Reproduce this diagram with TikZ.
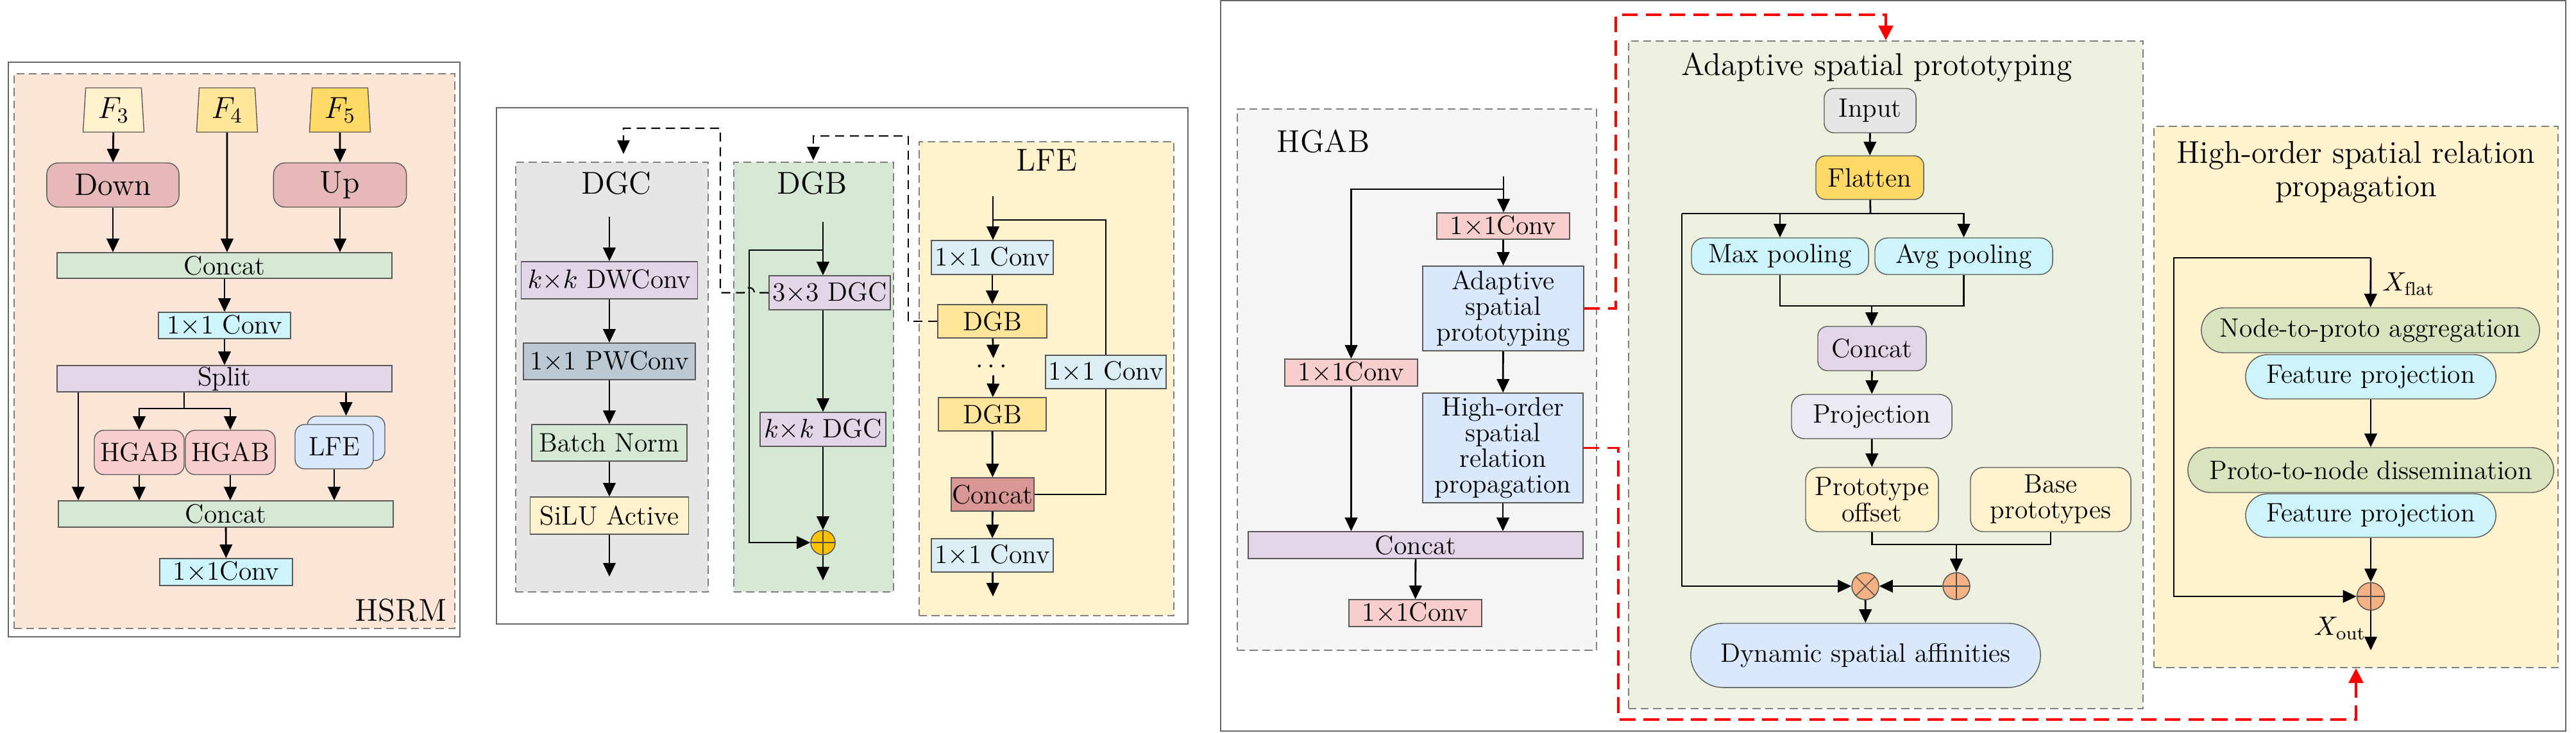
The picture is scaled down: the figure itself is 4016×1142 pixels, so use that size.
\RequirePackage{fix-cm}
\documentclass[tikz,border=0pt]{standalone}
\usepackage{amsmath}
\usepackage{fontspec}
\usepackage{tikz}
\usepackage{xcolor}
\usetikzlibrary{arrows.meta,positioning,calc,shapes.geometric}

\definecolor{hsrmbg}{HTML}{FBE5D6}
\definecolor{fthree}{HTML}{FFF2CC}
\definecolor{ffour}{HTML}{FFE699}
\definecolor{ffive}{HTML}{FFD966}
\definecolor{rosy}{HTML}{E6B8B7}
\definecolor{mint}{HTML}{D5E8D4}
\definecolor{aqua}{HTML}{CCF4FA}
\definecolor{lilac}{HTML}{E1D5E7}
\definecolor{pinkish}{HTML}{F8CECC}
\definecolor{sky}{HTML}{DAE8FC}
\definecolor{grayish}{HTML}{E6E6E6}
\definecolor{steel}{HTML}{BAC8D3}
\definecolor{cream}{HTML}{FFF2CC}
\definecolor{amber}{HTML}{FFC000}
\definecolor{ice}{HTML}{DAEEF3}
\definecolor{butter}{HTML}{FFE599}
\definecolor{rosedark}{HTML}{D99694}
\definecolor{fog}{HTML}{F5F5F5}
\definecolor{sage}{HTML}{EBF1DE}
\definecolor{gold}{HTML}{FFD966}
\definecolor{lavender}{HTML}{ECE9F3}
\definecolor{salmon}{HTML}{F4B183}
\definecolor{olive}{HTML}{D7E4BD}

\begin{document}
\begin{tikzpicture}[
    x=0.01cm, y=-0.01cm,
    font=\fontsize{11.8}{11.4}\selectfont,
    sz/.style 2 args={minimum width=#1, minimum height=#2},
    blk/.style={draw=black!65, line width=0.4pt, inner sep=0pt, align=center},
    rblk/.style={blk, rounded corners=#1},
    fmap/.style={trapezium, trapezium angle=84, trapezium stretches body, draw=black!65,
      line width=0.4pt, inner sep=0pt, minimum width=0.95cm, minimum height=0.69cm,
      font=\fontsize{13.5}{14}\selectfont},
    panel/.style={draw=black!50, dash pattern=on 3.5pt off 2pt, line width=0.5pt, inner sep=0pt},
    outer/.style={draw=black!60, line width=0.6pt},
    ttl/.style={font=\fontsize{14}{14.8}\selectfont, inner sep=0pt, align=center},
    arr/.style={-{Triangle[length=6pt, width=5.5pt]}, line width=0.8pt},
    ln/.style={line width=0.8pt},
    darr/.style={arr, dash pattern=on 4pt off 2.5pt, line width=0.6pt},
    rarr/.style={-{Triangle[length=6.5pt, width=6.5pt]}, draw=red, line width=0.9pt,
      dash pattern=on 7pt off 3.5pt},
    opplus/.style={circle, draw=black!70, line width=0.4pt, inner sep=0pt,
      path picture={\draw[black!70] (path picture bounding box.north) -- (path picture bounding box.south)
        (path picture bounding box.west) -- (path picture bounding box.east);}},
    optimes/.style={circle, draw=black!70, line width=0.4pt, inner sep=0pt,
      path picture={\draw[black!70] (path picture bounding box.north west) -- (path picture bounding box.south east)
        (path picture bounding box.north east) -- (path picture bounding box.south west);}},
  ]
  \useasboundingbox (0,0) rectangle (4016,1142);

  % HSRM
  \draw[outer] (13,97) rectangle (717,993);
  \node[panel, fill=hsrmbg, sz={6.87cm}{8.65cm}] (hsrmbox) at (365.5,547.5) {};
  \node[fmap, fill=fthree] (f3) at (177,171.5) {$F_3$};
  \node[fmap, fill=ffour] (f4) at (354,171.5) {$F_4$};
  \node[fmap, fill=ffive] (f5) at (530,171.5) {$F_5$};
  \node[rblk=0.18cm, fill=rosy, sz={2.06cm}{0.69cm}, font=\fontsize{13.8}{14}\selectfont] (down) at (176,288.5) {Down};
  \node[rblk=0.18cm, fill=rosy, sz={2.07cm}{0.69cm}, font=\fontsize{13.8}{14}\selectfont] (up) at (530,288.5) {Up};
  \node[blk, fill=mint, sz={5.22cm}{0.40cm}] (cat1) at (350,414) {Concat};
  \node[blk, fill=aqua, sz={2.06cm}{0.41cm}] (conv1) at (350,507.5) {1$\times$1 Conv};
  \node[blk, fill=lilac, sz={5.22cm}{0.41cm}] (split) at (350,590.5) {Split};
  \coordinate (sbr) at (287,637);
  \node[rblk=0.15cm, fill=pinkish, sz={1.40cm}{0.69cm}] (hgab1) at (217,705.5) {HGAB};
  \node[rblk=0.15cm, fill=pinkish, sz={1.40cm}{0.69cm}] (hgab2) at (359,705.5) {HGAB};
  \node[rblk=0.15cm, fill=sky, sz={1.21cm}{0.69cm}] (lfeback) at (539.5,683.5) {};
  \node[rblk=0.15cm, fill=sky, sz={1.22cm}{0.69cm}] (lfe) at (521,696.5) {LFE};
  \node[blk, fill=mint, sz={5.22cm}{0.41cm}] (cat2) at (352,801.5) {Concat};
  \node[blk, fill=aqua, sz={2.07cm}{0.42cm}] (conv2) at (352.5,892) {1$\times$1Conv};
  \node[ttl, anchor=base east] (hsrmlbl) at (697,968) {HSRM};

  \draw[arr] (f3) -- (down);
  \draw[arr] (f5) -- (up);
  \draw[arr] (f4) -- (cat1.north -| f4);
  \draw[arr] (down) -- (cat1.north -| down);
  \draw[arr] (up) -- (cat1.north -| up);
  \draw[arr] (cat1) -- (conv1);
  \draw[arr] (conv1) -- (split);
  \draw[arr] (split.south -| 122,0) -- (cat2.north -| 122,0);
  \draw[ln] (split.south -| sbr) -- (sbr);
  \draw[arr] (sbr) -| (hgab1);
  \draw[arr] (sbr) -| (hgab2);
  \draw[arr] (split.south -| lfeback) -- (lfeback);
  \draw[arr] (hgab1) -- (cat2.north -| hgab1);
  \draw[arr] (hgab2) -- (cat2.north -| hgab2);
  \draw[arr] (lfe) -- (cat2.north -| lfe);
  \draw[arr] (cat2) -- (conv2);

  % DGC / DGB / LFE
  \draw[outer] (774,168) rectangle (1852,973);
  \node[panel, fill=grayish, sz={3.00cm}{6.70cm}] (dgcbox) at (954,588) {};
  \node[ttl] (dgcttl) at (961,286) {DGC};
  \coordinate (dgcin) at (950,338);
  \coordinate (dgctop) at (972,240);
  \node[blk, fill=lilac, sz={2.75cm}{0.58cm}] (dw) at (950,437) {$k{\times}k$ DWConv};
  \node[blk, fill=steel, sz={2.68cm}{0.57cm}] (pw) at (950,563.5) {1$\times$1 PWConv};
  \node[blk, fill=mint, sz={2.42cm}{0.57cm}] (bn) at (950,690.5) {Batch Norm};
  \node[blk, fill=cream, sz={2.47cm}{0.58cm}] (silu) at (950,804) {SiLU Active};
  \coordinate (dgcout) at (950,899);
  \draw[arr] (dgcin) -- (dw);
  \draw[arr] (dw) -- (pw);
  \draw[arr] (pw) -- (bn);
  \draw[arr] (bn) -- (silu);
  \draw[arr] (silu) -- (dgcout);

  \node[panel, fill=mint, sz={2.49cm}{6.70cm}] (dgbbox) at (1268.5,588) {};
  \node[ttl] (dgbttl) at (1266,286) {DGB};
  \coordinate (dgbin) at (1283,346);
  \coordinate (dgbbr) at (1283,390);
  \coordinate (dgbloop) at (1168,390);
  \coordinate (dgbtop) at (1268,250);
  \node[blk, fill=lilac, sz={1.89cm}{0.53cm}] (dgc3) at (1293.5,456.5) {3$\times$3 DGC};
  \node[blk, fill=lilac, sz={1.96cm}{0.53cm}] (dgck) at (1283,669.5) {$k{\times}k$ DGC};
  \node[opplus, fill=amber, minimum size=0.38cm] (sum1) at (1283,846) {};
  \coordinate (dgbout) at (1283,905);
  \draw[arr] (dgbin) -- (dgbin |- dgc3.north);
  \draw[arr] (dgbbr) -- (dgbloop) |- (sum1);
  \draw[arr] (dgc3.south -| dgbin) -- (dgck);
  \draw[arr] (dgck) -- (sum1);
  \draw[arr] (sum1) -- (dgbout);

  \node[panel, fill=cream, sz={3.97cm}{7.39cm}] (lfebox) at (1631.5,590.5) {};
  \node[ttl] (lfettl) at (1632,250) {LFE};
  \coordinate (lfein) at (1548,306);
  \coordinate (lfebr) at (1548,343);
  \node[blk, fill=ice, sz={1.90cm}{0.53cm}] (lfeconv1) at (1547,401.5) {1$\times$1 Conv};
  \node[blk, fill=butter, sz={1.70cm}{0.52cm}] (lfedgb1) at (1547,501) {DGB};
  \node[inner sep=1pt] (lfedots) at (1549,572) {$\cdots$};
  \node[blk, fill=butter, sz={1.68cm}{0.52cm}] (lfedgb2) at (1547,646) {DGB};
  \node[blk, fill=rosedark, sz={1.29cm}{0.52cm}] (lfecat) at (1547.5,771) {Concat};
  \node[blk, fill=ice, sz={1.90cm}{0.52cm}] (lfeconv2) at (1547,866) {1$\times$1 Conv};
  \node[blk, fill=ice, sz={1.88cm}{0.52cm}] (lfeconvr) at (1724,580) {1$\times$1 Conv};
  \coordinate (lfeout) at (1548,930);
  \draw[arr] (lfein) -- (lfeconv1.north -| lfein);
  \draw[ln] (lfebr) -| (lfeconvr);
  \draw[ln] (lfeconvr) |- (lfecat);
  \draw[arr] (lfeconv1) -- (lfedgb1);
  \draw[arr] (lfedgb1) -- (lfedots);
  \draw[arr] (lfedots) -- (lfedgb2);
  \draw[arr] (lfedgb2) -- (lfecat);
  \draw[arr] (lfecat) -- (lfeconv2);
  \draw[arr] (lfeconv2) -- (lfeout);

  % dashed links to the sub-blocks
  \coordinate (hop) at (1168,456.5);
  \coordinate (dk1) at (1123,200);
  \coordinate (dk2) at (1416,212);
  \draw[darr] (dgc3.west) -- ([xshift=0.08cm]hop) arc[start angle=0, end angle=180, radius=0.08cm]
    -- (dk1 |- dgc3.west) -- (dk1) -| (dgctop);
  \draw[darr] (lfedgb1.west) -- (dk2 |- lfedgb1.west) -- (dk2) -| (dgbtop);

  % HGAB
  \draw[outer] (1903,1) rectangle (4000,1140);
  \node[panel, fill=fog, sz={5.60cm}{8.44cm}] (hgabbox) at (2209,592) {};
  \node[ttl] (hgabttl) at (2063,220) {HGAB};
  \coordinate (hgin) at (2344,275);
  \coordinate (hgbr) at (2344,295);
  \node[blk, fill=pinkish, sz={2.07cm}{0.41cm}] (hgconv1) at (2343.5,352.5) {1$\times$1Conv};
  \node[blk, fill=sky, sz={2.51cm}{1.32cm}] (asp) at (2343.5,481) {Adaptive\\spatial\\prototyping};
  \node[blk, fill=sky, sz={2.50cm}{1.71cm}] (hosrp) at (2343,698.5) {High-order\\spatial\\relation\\propagation};
  \node[blk, fill=pinkish, sz={2.07cm}{0.42cm}] (hgconvl) at (2106.5,581) {1$\times$1Conv};
  \node[blk, fill=lilac, sz={5.22cm}{0.42cm}] (hgcat) at (2207,850) {Concat};
  \node[blk, fill=pinkish, sz={2.07cm}{0.42cm}] (hgconv2) at (2206.5,956) {1$\times$1Conv};
  \draw[arr] (hgin) -- (hgconv1.north -| hgin);
  \draw[arr] (hgbr) -| (hgconvl);
  \draw[arr] (hgconv1) -- (asp);
  \draw[arr] (asp) -- (hosrp);
  \draw[arr] (hosrp) -- (hgcat.north -| hosrp);
  \draw[arr] (hgconvl) -- (hgcat.north -| hgconvl);
  \draw[arr] (hgcat) -- (hgconv2);

  % Adaptive spatial prototyping
  \node[panel, fill=sage, sz={8.02cm}{10.41cm}] (aspbox) at (2940,584.5) {};
  \node[ttl, anchor=base] (aspttl) at (2926,117) {Adaptive spatial prototyping};
  \node[rblk=0.15cm, fill=grayish, sz={1.43cm}{0.69cm}] (inp) at (2915.5,172.5) {Input};
  \node[rblk=0.15cm, fill=gold, sz={1.68cm}{0.68cm}] (flat) at (2915,277) {Flatten};
  \coordinate (flbr) at (2916,333);
  \coordinate (flleft) at (2622,333);
  \node[rblk=0.2cm, fill=aqua, sz={2.76cm}{0.57cm}] (maxp) at (2775,399.5) {Max pooling};
  \node[rblk=0.2cm, fill=aqua, sz={2.77cm}{0.57cm}] (avgp) at (3061.5,399.5) {Avg pooling};
  \coordinate (pooljoin) at (2918,477);
  \node[rblk=0.15cm, fill=lilac, sz={1.69cm}{0.69cm}] (aspcat) at (2918.5,543.5) {Concat};
  \node[rblk=0.2cm, fill=lavender, sz={2.50cm}{0.69cm}] (proj) at (2918,649.5) {Projection};
  \node[rblk=0.2cm, fill=cream, sz={2.07cm}{1.00cm}] (offs) at (2918.5,779) {Prototype\\offset};
  \node[rblk=0.2cm, fill=cream, sz={2.50cm}{1.00cm}] (baseproto) at (3197,779) {Base\\prototypes};
  \coordinate (protojoin) at (3050,849);
  \node[opplus, fill=salmon, minimum size=0.42cm] (psum) at (3050,914) {};
  \node[optimes, fill=salmon, minimum size=0.42cm] (pmul) at (2908,914) {};
  \node[rblk=0.5cm, fill=sky, sz={5.45cm}{1.00cm}] (dsa) at (2908.5,1022) {Dynamic spatial affinities};
  \draw[arr] (inp) -- (flat);
  \draw[ln] (flat) -- (flbr);
  \draw[arr] (flleft) -| (avgp);
  \draw[arr] (flbr -| maxp) -- (maxp);
  \draw[arr] (flleft) |- (pmul);
  \draw[ln] (maxp) |- (pooljoin);
  \draw[ln] (avgp) |- (pooljoin);
  \draw[arr] (pooljoin) -- (pooljoin |- aspcat.north);
  \draw[arr] (aspcat) -- (proj);
  \draw[arr] (proj) -- (offs);
  \draw[ln] (offs) |- (protojoin);
  \draw[ln] (baseproto) |- (protojoin);
  \draw[arr] (protojoin) -- (psum);
  \draw[arr] (psum) -- (pmul);
  \draw[arr] (pmul) -- (dsa);

  % High-order spatial relation propagation
  \node[panel, fill=cream, sz={6.30cm}{8.44cm}] (hosrpbox) at (3673,619) {};
  \node[ttl] (hosrpttl) at (3673,268) {High-order spatial relation\\propagation};
  \coordinate (hotop) at (3696,402);
  \coordinate (holeft) at (3389,402);
  \node[rblk=0.35cm, fill=olive, sz={5.27cm}{0.70cm}] (n2p) at (3695.5,515) {Node-to-proto aggregation};
  \node[rblk=0.34cm, fill=aqua, sz={3.90cm}{0.69cm}] (fp1) at (3696,587.5) {Feature projection};
  \node[rblk=0.35cm, fill=olive, sz={5.70cm}{0.70cm}] (p2n) at (3696,733) {Proto-to-node dissemination};
  \node[rblk=0.34cm, fill=aqua, sz={3.90cm}{0.68cm}] (fp2) at (3696,804) {Feature projection};
  \node[opplus, fill=salmon, minimum size=0.43cm] (hsum) at (3696,930) {};
  \coordinate (hoout) at (3696,1014);
  \node[inner sep=0pt] (xflat) at (3755,443) {$X_{\mathrm{flat}}$};
  \node[inner sep=0pt] (xout) at (3648,980) {$X_{\mathrm{out}}$};
  \draw[arr] (hotop) -- (n2p);
  \draw[arr] (hotop) -- (holeft) |- (hsum);
  \draw[arr] (fp1) -- (p2n);
  \draw[arr] (fp2) -- (hsum);
  \draw[arr] (hsum) -- (hoout);

  % red links
  \coordinate (rd1) at (2519,23);
  \coordinate (rd2) at (2523,1122);
  \draw[rarr] (asp.east) -- (rd1 |- asp.east) -- (rd1) -| (aspbox.north);
  \draw[rarr] (hosrp.east) -- (rd2 |- hosrp.east) -- (rd2) -| (hosrpbox.south);
\end{tikzpicture}
\end{document}
